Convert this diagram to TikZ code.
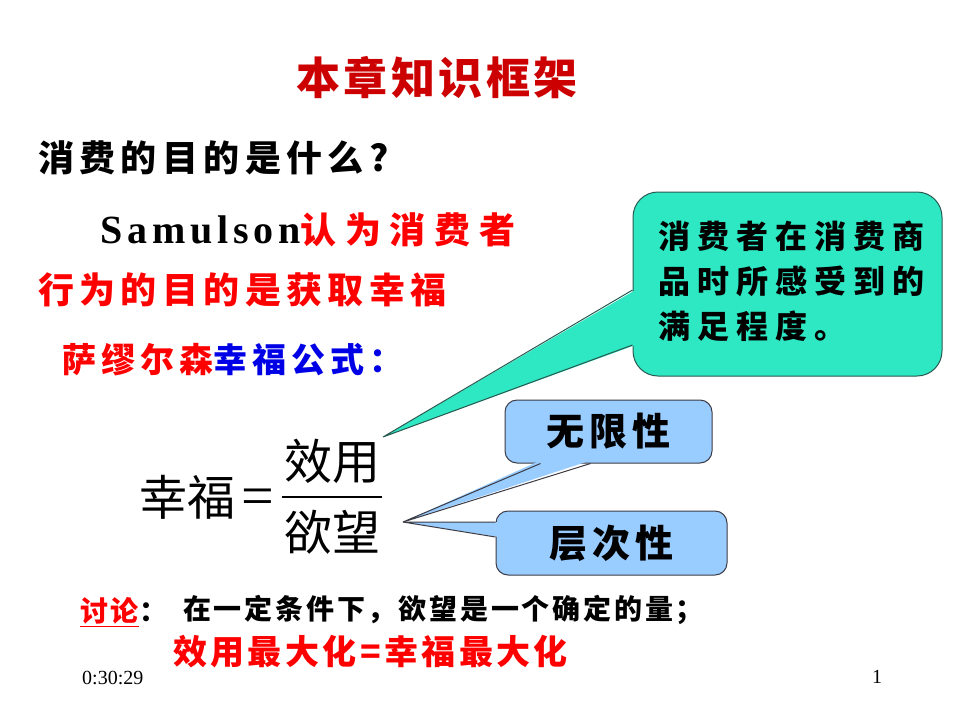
\documentclass[tikz,border=0pt]{standalone}
\usepackage{fontspec}
\setmainfont{Liberation Serif}
\newfontfamily\cjk{Noto Sans CJK SC}
\usetikzlibrary{calc}
\definecolor{textred}{RGB}{255,0,0}
\definecolor{titlered}{RGB}{204,0,0}
\definecolor{textblue}{RGB}{0,0,230}
\definecolor{notefill}{RGB}{46,232,196}
\definecolor{notedge}{RGB}{40,90,80}
\definecolor{tagfill}{RGB}{153,204,255}
\definecolor{tagedge}{RGB}{60,60,70}
\newcommand{\spaced}[1]{\addfontfeature{LetterSpace=#1}}
\tikzstyle{TitleText}=[inner sep=0pt, text=titlered, font=\cjk\bfseries\fontsize{44}{52}\selectfont\spaced{8}]
\tikzstyle{LineText}=[inner sep=0pt, anchor=west, font=\cjk\bfseries\fontsize{36}{42}\selectfont\spaced{15}]
\tikzstyle{MidText}=[inner sep=0pt, anchor=west, font=\cjk\bfseries\fontsize{34}{40}\selectfont\spaced{15}]
\tikzstyle{SmallText}=[inner sep=0pt, anchor=west, font=\cjk\bfseries\fontsize{28}{32}\selectfont\spaced{10}]
\tikzstyle{NoteText}=[inner sep=0pt, align=left, font=\cjk\bfseries\fontsize{32}{45}\selectfont\spaced{22}]
\tikzstyle{TagText}=[font=\cjk\bfseries\fontsize{38}{44}\selectfont\spaced{13}]
\tikzstyle{FormulaText}=[inner sep=0pt, font=\cjk\fontsize{48}{54}\selectfont]
\tikzstyle{FootText}=[inner sep=0pt, anchor=west, font=\fontsize{20}{24}\selectfont]
\tikzstyle{NoteBox}=[draw=notedge, fill=notefill, line width=1pt, rounded corners=25pt]
\tikzstyle{TagBox}=[TagText, draw=tagedge, fill=tagfill, line width=1pt, rounded corners=12pt]
\tikzstyle{FracBar}=[line width=1.6pt]

\begin{document}
\begin{tikzpicture}[x=1pt,y=-1pt]
\useasboundingbox[fill=white] (0,0) rectangle (960,720);

\node[TitleText](title) at (437,78) {本章知识框架};
\node[LineText](question) at (38,158) {消费的目的是什么?};
\node[LineText](samulson) at (100,230) {{\rmfamily\fontsize{40}{44}\selectfont\spaced{12}Samulson}{\color{textred}\spaced{24}认为消费者}};
\node[LineText, text=textred](goal) at (38,290) {行为的目的是获取幸福};
\node[MidText, text=textred](formula) at (62,360) {萨缪尔森\textcolor{textblue}{幸福公式：}};

\node[NoteBox, minimum width=309, minimum height=184](note) at (787.5,284) {};
\coordinate (noteTip) at (383,437);
\fill[notefill] ($(note.west)+(3,6)$) -- (noteTip) -- ($(note.west)+(3,61)$) -- cycle;
\draw[notedge, line width=1pt] ($(note.west)+(0,6)$) -- (noteTip) -- ($(note.west)+(0,61)$);
\node[NoteText](notetext) at ($(note.center)+(4,-3)$) {消费者在消费商\\品时所感受到的\\满足程度。};

\node[FormulaText](happy) at (187,497) {幸福};
\node[FormulaText, font=\rmfamily\fontsize{58}{60}\selectfont](equal) at (258,502) {=};
\node[FormulaText](utility) at (332,461) {效用};
\node[FormulaText](desire) at (332,532) {欲望};
\coordinate (barL) at (282,497);
\coordinate (barR) at (382,497);
\draw[FracBar] (barL) -- (barR);

\coordinate (tagTip) at (403,522);
\node[TagBox, minimum width=207, minimum height=63](limit) at (608.5,431.5) {无限性};
\fill[tagfill] ($(limit.south)+(-68,-3)$) -- (tagTip) -- ($(limit.south)+(-18,-3)$) -- cycle;
\draw[tagedge, line width=1pt] ($(limit.south)+(-68,0)$) -- (tagTip) -- ($(limit.south)+(-18,0)$);
\node[TagBox, minimum width=231, minimum height=64](level) at (611.5,543) {层次性};
\fill[tagfill] ($(level.west)+(3,-21)$) -- (tagTip) -- ($(level.west)+(3,-6)$) -- cycle;
\draw[tagedge, line width=1pt] ($(level.west)+(0,-21)$) -- (tagTip) -- ($(level.west)+(0,-6)$);

\node[SmallText, text=textred](talk) at (80,612) {\underline{讨论}\textcolor{black}{：}};
\node[SmallText](condition) at (183,610) {在一定条件下，欲望是一个确定的量；};
\node[MidText, text=textred, font=\cjk\bfseries\fontsize{34}{40}\selectfont\spaced{10}](result) at (173,652) {效用最大化=幸福最大化};

\node[FootText](time) at (82,678) {0:30:29};
\node[FootText](page) at (872,677) {1};
\end{tikzpicture}
\end{document}
